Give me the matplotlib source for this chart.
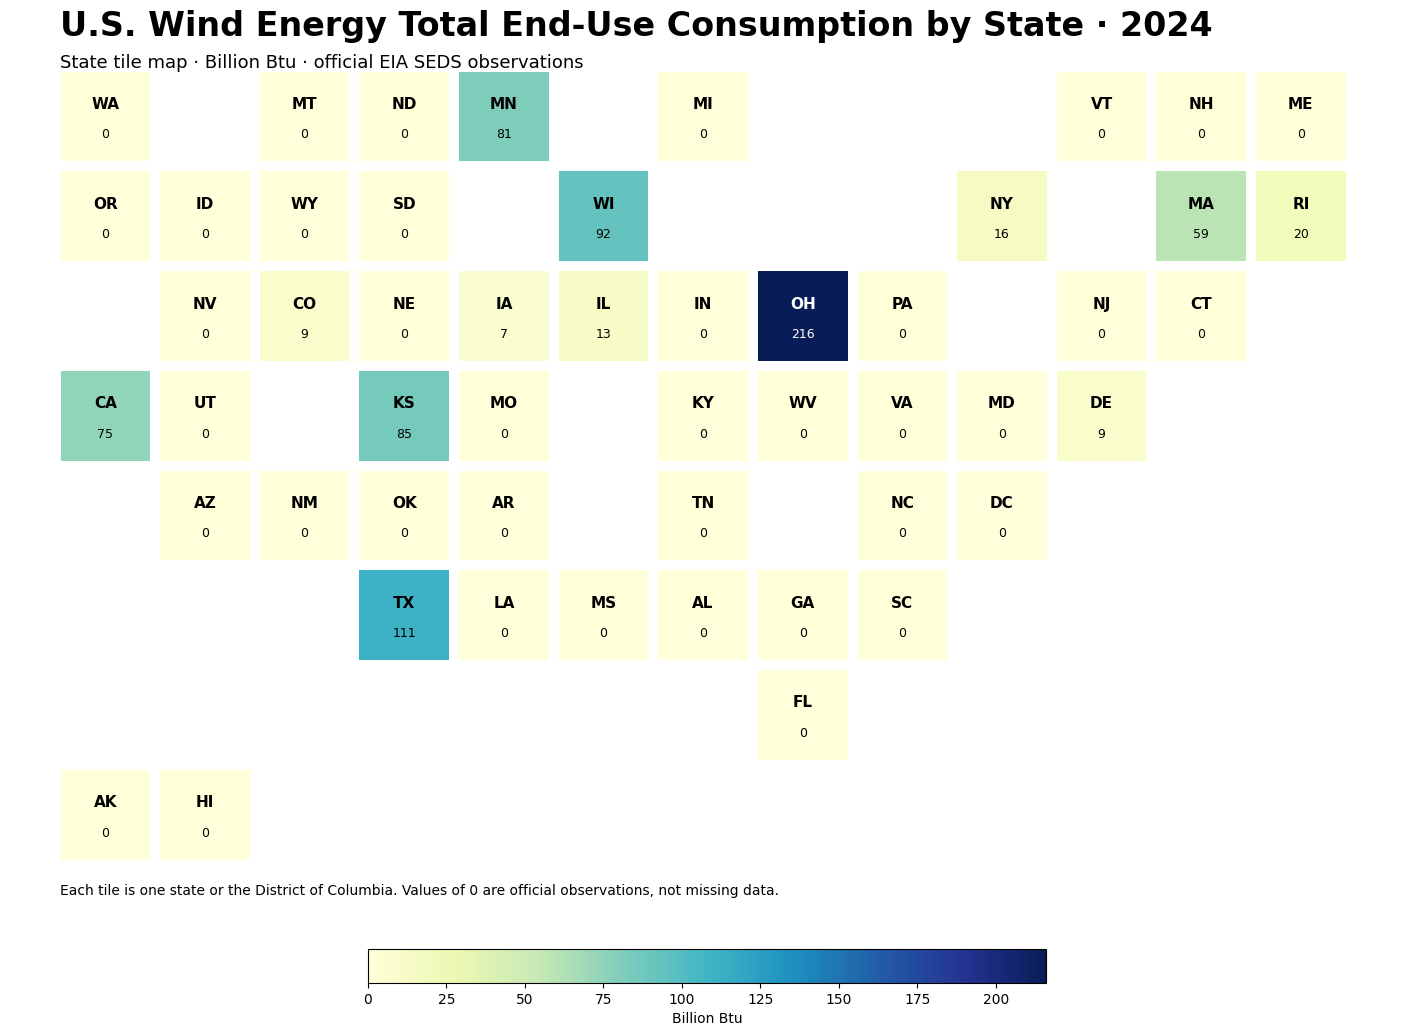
# tile map of wind consumption by state
import matplotlib
matplotlib.use("Agg")
import matplotlib.pyplot as plt
from matplotlib.colors import Normalize
from matplotlib.patches import Rectangle

# tile grid, "" = empty slot
grid_rows = [
    ["WA", "", "MT", "ND", "MN", "", "MI", "", "", "", "VT", "NH", "ME"],
    ["OR", "ID", "WY", "SD", "", "WI", "", "", "", "NY", "", "MA", "RI"],
    ["", "NV", "CO", "NE", "IA", "IL", "IN", "OH", "PA", "", "NJ", "CT", ""],
    ["CA", "UT", "", "KS", "MO", "", "KY", "WV", "VA", "MD", "DE", "", ""],
    ["", "AZ", "NM", "OK", "AR", "", "TN", "", "NC", "DC", "", "", ""],
    ["", "", "", "TX", "LA", "MS", "AL", "GA", "SC", "", "", "", ""],
    ["", "", "", "", "", "", "", "FL", "", "", "", "", ""],
    ["AK", "HI", "", "", "", "", "", "", "", "", "", "", ""],
]

# only the non-zero states, everything else is an observed 0
nonzero_states = ["MN", "WI", "NY", "MA", "RI", "CO", "IA", "IL", "OH", "CA", "KS", "DE", "TX"]
nonzero_values = [81, 92, 16, 59, 20, 9, 7, 13, 216, 75, 85, 9, 111]
cbar_ticks = [0, 25, 50, 75, 100, 125, 150, 175, 200]

W, H = 1414, 1036
values = dict(zip(nonzero_states, nonzero_values))
norm = Normalize(vmin=0, vmax=max(nonzero_values))
cmap = plt.get_cmap("YlGnBu")

fig = plt.figure(figsize=(W / 100, H / 100), dpi=100)
ax = fig.add_axes([60.5 / W, 1 - 859.6 / H, 1285.2 / W, 788 / H])
ax.set_xlim(0, 12.9)
ax.set_ylim(7.9, 0)
ax.axis("off")

for r, row in enumerate(grid_rows):
    for c, state in enumerate(row):
        if not state:
            continue
        val = values.get(state, 0)
        ax.add_patch(Rectangle((c, r), 0.9, 0.9, facecolor=cmap(norm(val)), edgecolor="none"))
        txt_color = "white" if norm(val) > 0.6 else "black"
        ax.text(c + 0.45, r + 0.33, state, ha="center", va="center",
                fontsize=11, fontweight="bold", color=txt_color)
        ax.text(c + 0.45, r + 0.635, str(val), ha="center", va="center",
                fontsize=9, color=txt_color)

fig.text(60 / W, 1 - 26.6 / H, "U.S. Wind Energy Total End-Use Consumption by State · 2024",
         fontsize=24, fontweight="bold", ha="left", va="center")
fig.text(60 / W, 1 - 63.5 / H, "State tile map · Billion Btu · official EIA SEDS observations",
         fontsize=13, ha="left", va="center")
fig.text(60 / W, 1 - 890.5 / H,
         "Each tile is one state or the District of Columbia. Values of 0 are official observations, not missing data.",
         fontsize=10, ha="left", va="center")

cax = fig.add_axes([368 / W, 1 - 983 / H, 678 / W, 34 / H])
sm = plt.cm.ScalarMappable(norm=norm, cmap=cmap)
cbar = fig.colorbar(sm, cax=cax, orientation="horizontal")
cbar.set_ticks(cbar_ticks)
cbar.set_label("Billion Btu", fontsize=10)

fig.savefig("out.png", dpi=100)
plt.close(fig)
